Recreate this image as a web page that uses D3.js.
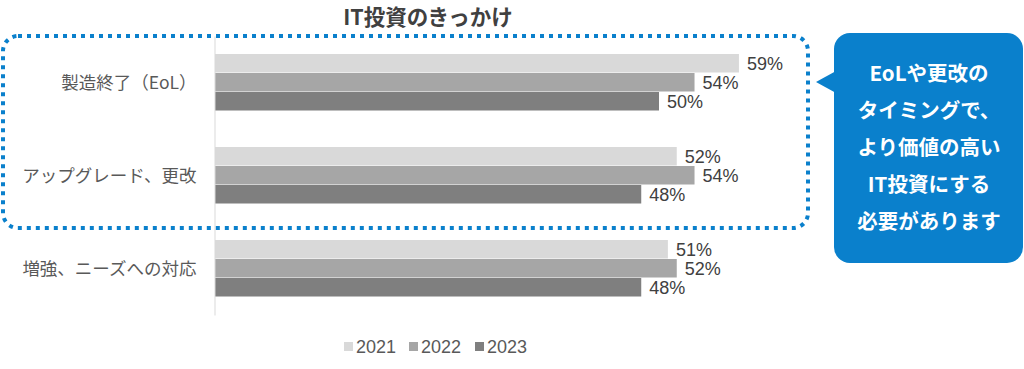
<!DOCTYPE html>
<html><head><meta charset="utf-8">
<script src="https://cdn.jsdelivr.net/npm/d3@7"></script>
<style>body{margin:0;background:#fff}svg{display:block}</style>
</head><body><svg id="c" width="1024" height="369"></svg>
<script>
const categories = ["製造終了（EoL）", "アップグレード、更改", "増強、ニーズへの対応"];
const seriesNames = ["2021", "2022", "2023"];
const values2021 = [59, 52, 51];
const values2022 = [54, 54, 52];
const values2023 = [50, 48, 48];
const colors = ["#d9d9d9", "#a6a6a6", "#7f7f7f"];
const calloutLines = ["EoLや更改の", "タイミングで、", "より価値の高い", "IT投資にする", "必要があります"];
const title = "IT投資のきっかけ";

const series = [values2021, values2022, values2023];
const svg = d3.select("#c");
const jp = "'Noto Sans CJK JP','Noto Sans',sans-serif";
const num = "'Liberation Sans',Arial,sans-serif";

const x = d3.scaleLinear().domain([0, 60]).range([215, 215 + 60 * 8.88]);
const y = d3.scaleBand().domain(categories).range([36, 315]).paddingInner(0).paddingOuter(0);
const y1 = d3.scaleBand().domain(seriesNames).range([0, 57]).padding(0);
const innerOff = (y.bandwidth() - 57) / 2;

// title
svg.append("text").attr("x", 428).attr("y", 25).attr("text-anchor", "middle")
  .attr("font-family", jp).attr("font-weight", "bold").attr("font-size", 21.5).attr("fill", "#404040").text(title);

// bars
categories.forEach((c, i) => {
  const g = svg.append("g").attr("transform", `translate(0,${y(c) + innerOff})`);
  seriesNames.forEach((s, j) => {
    const v = series[j][i];
    g.append("rect").attr("x", x(0)).attr("y", y1(s)).attr("width", x(v) - x(0)).attr("height", y1.bandwidth() - 0.5)
      .attr("fill", colors[j]);
    g.append("text").attr("x", x(v) + 8).attr("y", y1(s) + y1.bandwidth() / 2 + 6.5)
      .attr("font-family", num).attr("font-size", 18).attr("fill", "#404040").text(v + "%");
  });
});

// axis
const ax = svg.append("g").attr("transform", `translate(${x(0) - 0.5},0)`).call(d3.axisLeft(y).tickSize(0).tickPadding(18));
ax.select(".domain").attr("stroke", "#d9d9d9").attr("stroke-width", 1);
ax.selectAll("text").attr("font-family", jp).attr("font-size", 17.5).attr("fill", "#595959").attr("dy", "0.35em");

// dotted highlight
svg.append("rect").attr("x", 3).attr("y", 36).attr("width", 805).attr("height", 192).attr("rx", 15)
  .attr("fill", "none").attr("stroke", "#0a80cc").attr("stroke-width", 4).attr("stroke-dasharray", "4,5");

// callout
svg.append("rect").attr("x", 834).attr("y", 33).attr("width", 189).attr("height", 230).attr("rx", 16).attr("fill", "#0a80cc");
svg.append("path").attr("d", "M836,71 L816,82 L836,93 Z").attr("fill", "#0a80cc");
calloutLines.forEach((t, i) => {
  svg.append("text").attr("x", 929).attr("y", 81 + i * 37).attr("text-anchor", "middle")
    .attr("font-family", jp).attr("font-weight", "bold").attr("font-size", 20.5).attr("fill", "#fff").text(t);
});

// legend
const legX = [344, 409, 475];
seriesNames.forEach((s, j) => {
  svg.append("rect").attr("x", legX[j]).attr("y", 342).attr("width", 9).attr("height", 9).attr("fill", colors[j]);
  svg.append("text").attr("x", legX[j] + 12).attr("y", 353).attr("font-family", num).attr("font-size", 18)
    .attr("fill", "#595959").text(s);
});
</script></body></html>
